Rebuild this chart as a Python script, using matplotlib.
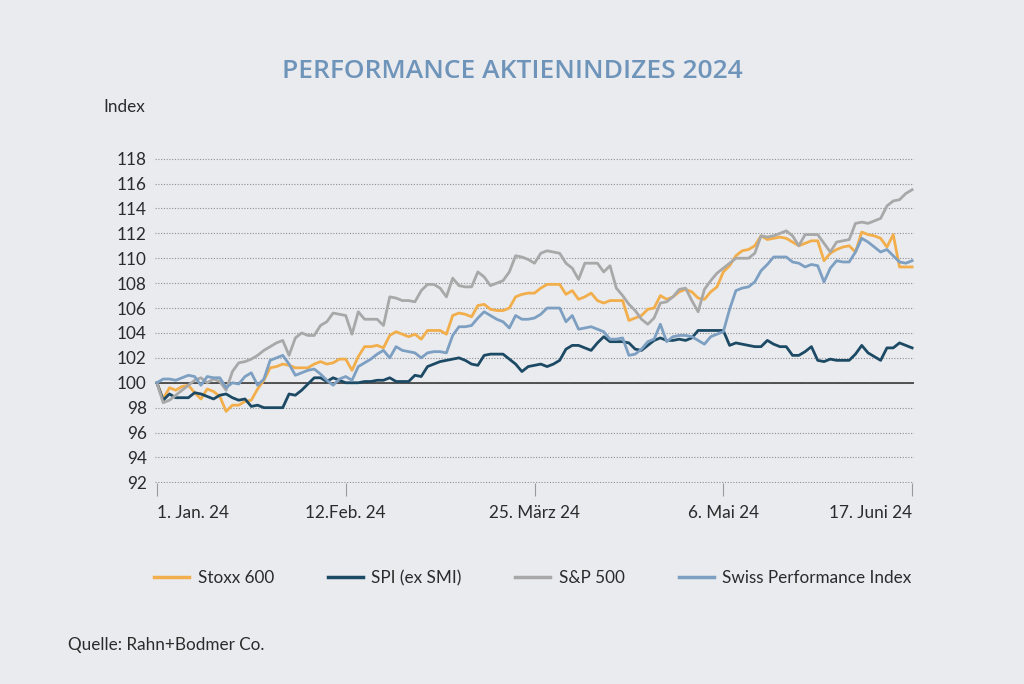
import numpy as np
import pandas as pd
import matplotlib
matplotlib.use("Agg")
import matplotlib.pyplot as plt
from matplotlib.lines import Line2D

# Handelstage 1. Jan. bis 17. Juni 2024
dates = pd.bdate_range("2024-01-01", "2024-06-17")

stoxx_600 = [
    100.0, 98.7, 99.6, 99.4, 99.7, 99.8, 99.2, 98.7, 99.5, 99.3,
    98.9, 97.7, 98.2, 98.2, 98.5, 98.6, 99.5, 100.2, 101.2, 101.3,
    101.5, 101.4, 101.2, 101.2, 101.2, 101.5, 101.7, 101.5, 101.6, 101.9,
    101.9, 101.0, 102.1, 102.9, 102.9, 103.0, 102.8, 103.8, 104.1, 103.9,
    103.7, 103.9, 103.5, 104.2, 104.2, 104.2, 103.9, 105.4, 105.6, 105.5,
    105.3, 106.2, 106.3, 105.9, 105.8, 105.8, 106.0, 106.9, 107.1, 107.2,
    107.2, 107.6, 107.9, 107.9, 107.9, 107.1, 107.4, 106.7, 106.9, 107.2,
    106.6, 106.4, 106.6, 106.6, 106.6, 105.0, 105.2, 105.4, 105.9,
    106.0, 107.0, 106.7, 106.9, 107.3, 107.5, 107.3, 106.8, 106.7, 107.3,
    107.7, 108.9, 109.4, 110.2, 110.6, 110.7, 111.0, 111.8, 111.5, 111.6,
    111.7, 111.6, 111.3, 111.0, 111.2, 111.4, 111.4, 109.8, 110.4, 110.7,
    110.9, 111.0, 110.5, 112.1, 111.9, 111.8, 111.6, 110.9, 111.9, 109.3,
    109.3, 109.3,
]

spi_ex_smi = [
    100.0, 98.6, 99.1, 98.8, 98.8, 98.8, 99.2, 99.1, 98.9, 98.7,
    99.0, 99.1, 98.8, 98.6, 98.7, 98.1, 98.2, 98.0, 98.0, 98.0,
    98.0, 99.1, 99.0, 99.4, 99.9, 100.4, 100.4, 100.1, 100.4, 100.2,
    100.0, 100.0, 100.0, 100.1, 100.1, 100.2, 100.2, 100.4, 100.1, 100.1,
    100.1, 100.6, 100.5, 101.3, 101.5, 101.7, 101.8, 101.9, 102.0, 101.8,
    101.5, 101.4, 102.2, 102.3, 102.3, 102.3, 101.9, 101.5, 100.9, 101.3,
    101.4, 101.5, 101.3, 101.5, 101.8, 102.7, 103.0, 103.0, 102.8, 102.6,
    103.2, 103.7, 103.3, 103.3, 103.3, 103.2, 102.7, 102.6, 103.0,
    103.4, 103.6, 103.4, 103.4, 103.5, 103.4, 103.6, 104.2, 104.2, 104.2,
    104.2, 104.2, 103.0, 103.2, 103.1, 103.0, 102.9, 102.9, 103.4, 103.1,
    102.9, 102.9, 102.2, 102.2, 102.5, 102.9, 101.8, 101.7, 101.9, 101.8,
    101.8, 101.8, 102.3, 103.0, 102.4, 102.1, 101.8, 102.8, 102.8, 103.2,
    103.0, 102.8,
]

sp_500 = [
    100.0, 98.4, 98.6, 99.0, 99.4, 99.8, 100.2, 100.4, 100.0, 100.3,
    100.1, 99.4, 100.9, 101.6, 101.7, 101.9, 102.2, 102.6, 102.9, 103.2,
    103.4, 102.2, 103.6, 104.0, 103.8, 103.8, 104.6, 104.9, 105.6, 105.5,
    105.4, 103.9, 105.7, 105.1, 105.1, 105.1, 104.6, 106.9, 106.8, 106.6,
    106.6, 106.5, 107.4, 107.9, 107.9, 107.6, 106.9, 108.4, 107.8, 107.7,
    107.7, 108.9, 108.5, 107.8, 108.0, 108.2, 108.9, 110.2, 110.1, 109.9,
    109.6, 110.4, 110.6, 110.5, 110.4, 109.6, 109.2, 108.3, 109.6, 109.6,
    109.6, 108.9, 109.4, 107.6, 107.0, 106.3, 105.8, 105.1, 104.7,
    105.2, 106.4, 106.5, 106.9, 107.5, 107.6, 106.6, 105.7, 107.5, 108.2,
    108.8, 109.2, 109.6, 110.0, 110.0, 110.0, 110.4, 111.8, 111.7, 111.8,
    112.0, 112.2, 111.8, 111.0, 111.9, 111.9, 111.9, 111.2, 110.5, 111.3,
    111.4, 111.5, 112.8, 112.9, 112.8, 113.0, 113.2, 114.2, 114.6, 114.7,
    115.2, 115.5,
]

swiss_perf = [
    100.0, 100.3, 100.3, 100.2, 100.4, 100.6, 100.5, 99.8, 100.5, 100.4,
    100.4, 99.6, 100.0, 99.9, 100.5, 100.8, 99.8, 100.3, 101.8, 102.0,
    102.2, 101.5, 100.6, 100.8, 101.0, 101.1, 100.7, 100.2, 99.8, 100.3,
    100.5, 100.2, 101.3, 101.6, 101.9, 102.3, 102.6, 102.0, 102.9, 102.6,
    102.5, 102.4, 102.0, 102.4, 102.5, 102.5, 102.4, 103.8, 104.5, 104.5,
    104.6, 105.2, 105.7, 105.4, 105.1, 104.9, 104.4, 105.4, 105.1, 105.1,
    105.2, 105.5, 106.0, 106.0, 106.0, 104.9, 105.4, 104.3, 104.4, 104.5,
    104.3, 104.1, 103.5, 103.5, 103.6, 102.2, 102.3, 102.7, 103.3,
    103.5, 104.7, 103.3, 103.7, 103.8, 103.8, 103.7, 103.4, 103.1, 103.7,
    103.9, 104.1, 105.9, 107.4, 107.6, 107.7, 108.1, 109.0, 109.5, 110.1,
    110.1, 110.1, 109.7, 109.6, 109.3, 109.5, 109.4, 108.1, 109.2, 109.8,
    109.7, 109.7, 110.5, 111.6, 111.3, 110.9, 110.5, 110.7, 110.2, 109.7,
    109.6, 109.8,
]

series_names = ["Stoxx 600", "SPI (ex SMI)", "S&P 500", "Swiss Performance Index"]
series_colors = ["#f2ae4a", "#1c4964", "#a8a8a8", "#7d9fc2"]

tick_dates = pd.to_datetime(["2024-01-01", "2024-02-12", "2024-03-25",
                             "2024-05-06", "2024-06-17"])
tick_labels = ["1. Jan. 24", "12.Feb. 24", "25. März 24", "6. Mai 24", "17. Juni 24"]
y_ticks = np.arange(92, 119, 2)

bg = "#e9ebef"
text_col = "#2b2b2b"
fs = 12.3
plt.rcParams["font.family"] = ["Lato", "DejaVu Sans"]

# Handelstage gleichmässig verteilt (wie im Original)
x = np.arange(len(dates))
tick_pos = dates.get_indexer(tick_dates)

fig = plt.figure(figsize=(10.24, 6.84), dpi=100, facecolor=bg)
ax = fig.add_axes([155 / 1024, 1 - 483 / 684, (914 - 155) / 1024, (483 - 158) / 684])
ax.set_facecolor(bg)

ax.axhline(100, color="#3a3a3a", lw=1.2, zorder=2)
for vals, name, col in zip([stoxx_600, spi_ex_smi, sp_500, swiss_perf],
                           series_names, series_colors):
    ax.plot(x, vals, color=col, lw=2.0, label=name, zorder=3)

ax.set_ylim(91.95, 118.05)
ax.set_xlim(-0.3, x[-1] + 0.3)
ax.set_yticks(y_ticks)
ax.set_yticklabels([str(v) for v in y_ticks])
ax.set_xticks(tick_pos)
ax.set_xticklabels(tick_labels)
xl = ax.get_xticklabels()
xl[0].set_ha("left")
xl[-1].set_ha("right")

ax.grid(axis="y", linestyle=(0, (1, 1.5)), color="#8f8f8f", lw=0.8)
for s in ax.spines.values():
    s.set_visible(False)
ax.tick_params(axis="y", length=0, pad=6, labelsize=fs, labelcolor=text_col)
ax.tick_params(axis="x", length=9, width=0.8, color="#9a9a9a", pad=7,
               labelsize=fs, labelcolor=text_col)

fig.text(0.5, 1 - 71 / 684, "PERFORMANCE AKTIENINDIZES 2024", ha="center",
         va="center", fontsize=19, fontweight="semibold", color="#6f94ba",
         family=["Open Sans", "DejaVu Sans"])
fig.text(103 / 1024, 1 - 107 / 684, "Index", ha="left", va="center",
         fontsize=fs, color=text_col)
fig.text(68 / 1024, 1 - 645 / 684, "Quelle: Rahn+Bodmer Co.", ha="left",
         va="center", fontsize=fs, color=text_col)

handles = [Line2D([0], [0], color=c, lw=2.5) for c in series_colors]
fig.legend(handles, series_names, loc="center left",
           bbox_to_anchor=(154 / 1024, 1 - 578 / 684), ncol=4, frameon=False,
           fontsize=fs, handlelength=2.05, handletextpad=0.5,
           columnspacing=3.15, borderpad=0, borderaxespad=0, labelcolor=text_col)

fig.savefig("out.png", dpi=100, facecolor=bg)
